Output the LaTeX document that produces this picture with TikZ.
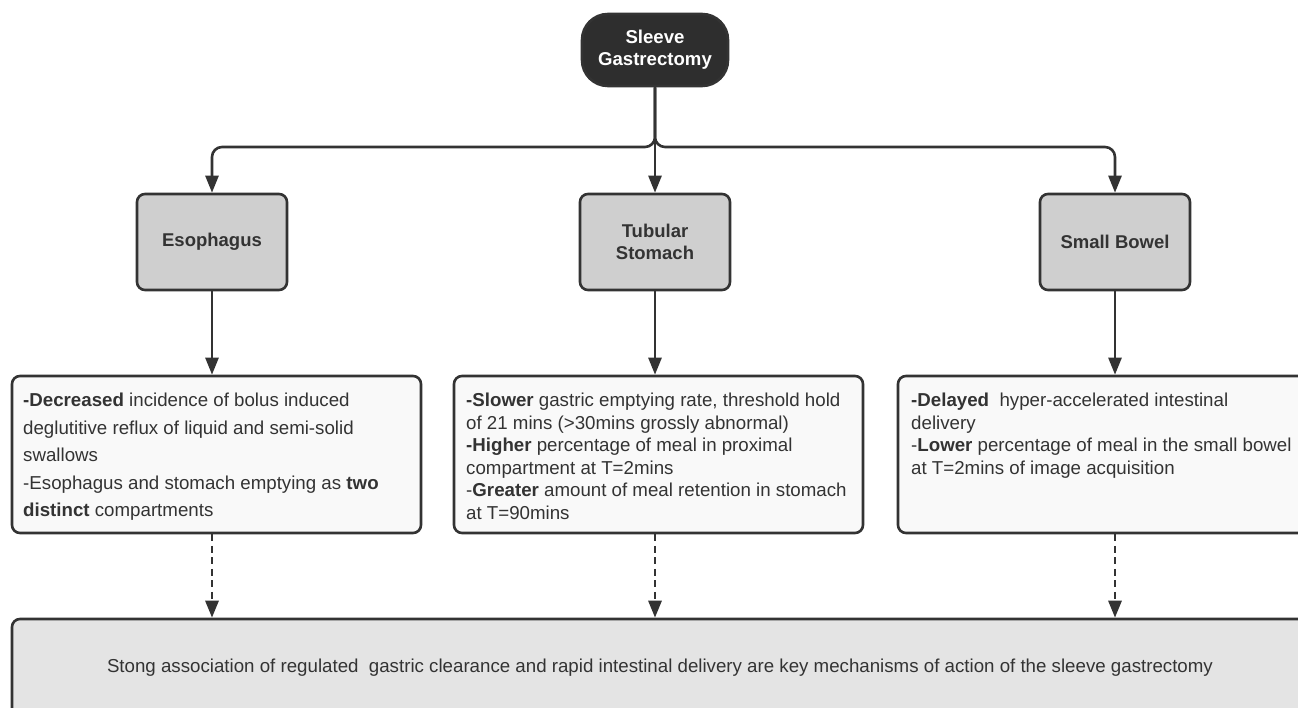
\documentclass[tikz,border=0pt]{standalone}
\usepackage{fontspec}
\setmainfont{Liberation Sans}
\usetikzlibrary{arrows.meta}
\definecolor{dark}{HTML}{333333}
\definecolor{topfill}{HTML}{2E2E2E}
\definecolor{grayfill}{HTML}{CFCFCF}
\definecolor{textfill}{HTML}{F9F9F9}
\definecolor{botfill}{HTML}{E4E4E4}
\tikzset{
  topbox/.style={draw=dark, line width=2.6pt, fill=topfill, rounded corners=26pt,
    minimum width=146pt, minimum height=72pt, inner sep=0pt, text=white, align=center,
    font=\fontsize{18.6}{22}\selectfont\bfseries},
  graybox/.style={draw=dark, line width=2.6pt, fill=grayfill, rounded corners=8pt,
    minimum width=150pt, minimum height=96pt, inner sep=0pt, text=dark, align=center,
    font=\fontsize{18.5}{22}\selectfont\bfseries},
  infobox/.style={draw=dark, line width=2.6pt, fill=textfill, rounded corners=8pt,
    inner sep=0pt},
  bottombox/.style={draw=dark, line width=2.6pt, fill=botfill, rounded corners=8pt,
    inner sep=0pt},
  infotext/.style={anchor=north west, inner sep=0pt, align=left, text=dark},
  conn/.style={draw=dark, line width=2.6pt, -{Triangle[length=17pt,width=13pt]}},
  dconn/.style={conn, line width=2.9pt, dash pattern=on 7pt off 4.5pt}
}
\begin{document}
\begin{tikzpicture}[x=1pt,y=-1pt]
\useasboundingbox (0,0) rectangle (1298,708);
\clip (0,0) rectangle (1298,708);
\fill[white] (0,0) rectangle (1298,708);

% top node
\node[topbox] (top) at (655,50) {Sleeve\\Gastrectomy};

% category boxes
\node[graybox] (eso) at (212,242) {Esophagus};
\node[graybox] (sto) at (655,242) {Tubular\\Stomach};
\node[graybox] (bow) at (1115,242) {Small Bowel};

% info boxes
\node[infobox, minimum width=409pt, minimum height=157pt] (t1) at (216.5,454.5) {};
\node[infobox, minimum width=409pt, minimum height=157pt] (t2) at (658.5,454.5) {};
\node[infobox, minimum width=420pt, minimum height=157pt] (t3) at (1108,454.5) {};

\node[infotext, font=\fontsize{18.7}{27.5}\selectfont] (x1) at (23,393)
  {\textbf{-Decreased} incidence of bolus induced\\
   deglutitive reflux of liquid and semi-solid\\
   swallows\\
   -Esophagus and stomach emptying as \textbf{two}\\
   \textbf{distinct} compartments};
\node[infotext, font=\fontsize{18.7}{22.5}\selectfont] (x2) at (466,393)
  {\textbf{-Slower} gastric emptying rate, threshold hold\\
   of 21 mins (>30mins grossly abnormal)\\
   \textbf{-Higher} percentage of meal in proximal\\
   compartment at T=2mins\\
   -\textbf{Greater} amount of meal retention in stomach\\
   at T=90mins};
\node[infotext, font=\fontsize{18.7}{22.5}\selectfont] (x3) at (911,393)
  {\textbf{-Delayed}\ \ hyper-accelerated intestinal\\
   delivery\\
   -\textbf{Lower} percentage of meal in the small bowel\\
   at T=2mins of image acquisition};

% bottom box
\node[bottombox, minimum width=1320pt, minimum height=110pt] (bot) at (672,674) {};
\node[anchor=base, inner sep=0pt, text=dark, font=\fontsize{18.7}{22}\selectfont] (btext) at (660,672)
  {Stong association of regulated\ \ gastric clearance and rapid intestinal delivery are key mechanisms of action of the sleeve gastrectomy};

% connectors
\coordinate (junc) at (655,147);
\draw[conn, rounded corners=10pt] (top.south) -- (junc) -| (eso.north);
\draw[conn, rounded corners=10pt] (top.south) -- (junc) -| (bow.north);
\draw[conn] (top.south) -- (sto.north);

\draw[conn] (eso.south) -- (eso.south |- t1.north);
\draw[conn] (sto.south) -- (sto.south |- t2.north);
\draw[conn] (bow.south) -- (bow.south |- t3.north);

\draw[dconn] (eso.south |- t1.south) -- (eso.south |- bot.north);
\draw[dconn] (sto.south |- t2.south) -- (sto.south |- bot.north);
\draw[dconn] (bow.south |- t3.south) -- (bow.south |- bot.north);
\end{tikzpicture}
\end{document}
